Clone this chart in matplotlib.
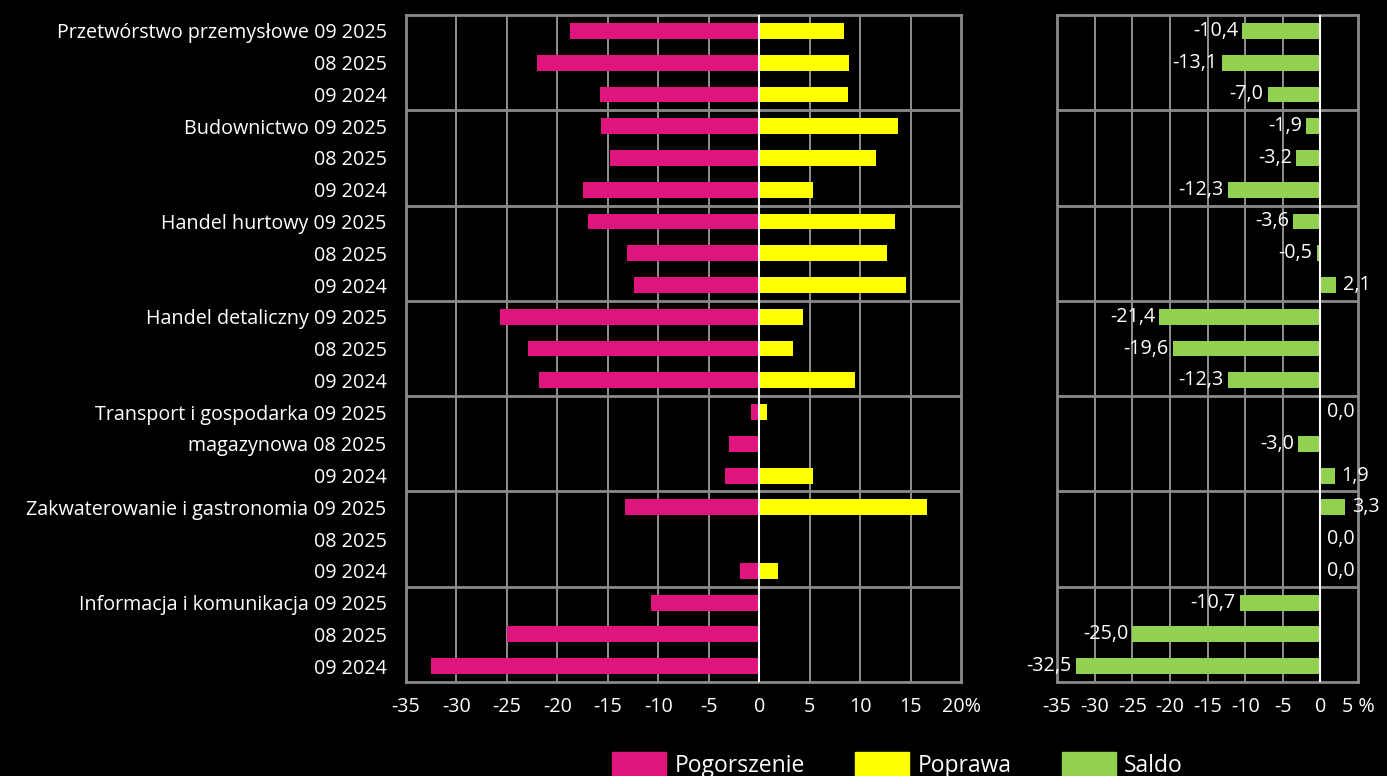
import matplotlib
matplotlib.use("Agg")
import matplotlib.pyplot as plt
from matplotlib.patches import Patch
import numpy as np

plt.rcParams['font.family'] = ['Open Sans', 'DejaVu Sans']

# label parts for each row (sector name shown on the first rows of a group)
sector_names = [
    ["Przetwórstwo przemysłowe", "", ""],
    ["Budownictwo", "", ""],
    ["Handel hurtowy", "", ""],
    ["Handel detaliczny", "", ""],
    ["Transport i gospodarka", "magazynowa", ""],
    ["Zakwaterowanie i gastronomia", "", ""],
    ["Informacja i komunikacja", "", ""],
]
periods = ["09 2025", "08 2025", "09 2024"]

pogorszenie = [-18.7, -22.0, -15.8,
               -15.7, -14.8, -17.5,
               -17.0, -13.1, -12.4,
               -25.7, -22.9, -21.8,
               -0.8, -3.0, -3.4,
               -13.3, 0.0, -1.9,
               -10.7, -25.0, -32.5]
poprawa = [8.4, 8.9, 8.8,
           13.8, 11.6, 5.3,
           13.5, 12.7, 14.5,
           4.3, 3.3, 9.5,
           0.8, 0.0, 5.3,
           16.6, 0.0, 1.9,
           0.0, 0.0, 0.0]
saldo = [-10.4, -13.1, -7.0,
         -1.9, -3.2, -12.3,
         -3.6, -0.5, 2.1,
         -21.4, -19.6, -12.3,
         0.0, -3.0, 1.9,
         3.3, 0.0, 0.0,
         -10.7, -25.0, -32.5]

left_ticks = [-35, -30, -25, -20, -15, -10, -5, 0, 5, 10, 15, 20]
right_ticks = [-35, -30, -25, -20, -15, -10, -5, 0, 5]

labels = []
for names in sector_names:
    for name, p in zip(names, periods):
        labels.append((name + " " + p).strip())

c_neg = "#E0147E"
c_pos = "#FFFF00"
c_sal = "#92D050"
grid_c = "#8a8a8a"
fs = 14.2

fig = plt.figure(figsize=(13.87, 7.76), dpi=100, facecolor="black")
ax1 = fig.add_axes([0.2927, 0.1211, 0.4002, 0.8595])
ax2 = fig.add_axes([0.7621, 0.1211, 0.2170, 0.8595])

y = np.arange(len(labels))
n = len(labels)


def style(ax, ticks, last):
    ax.set_facecolor("black")
    ax.set_ylim(n - 0.5, -0.5)
    ax.set_xlim(ticks[0], ticks[-1])
    ax.set_xticks(ticks)
    tl = [str(t) for t in ticks]
    tl[-1] = last
    ax.set_xticklabels(tl, color="white", fontsize=fs)
    ax.tick_params(axis="x", length=0, pad=11)
    for t in ticks[1:-1]:
        ax.axvline(t, color="#9a9a9a", lw=1.3, zorder=0)
    for g in range(3, n, 3):
        ax.axhline(g - 0.5, color=grid_c, lw=2, zorder=0)
    for s in ax.spines.values():
        s.set_color(grid_c)
        s.set_linewidth(2)
    ax.axvline(0, color="white", lw=1.5, zorder=3)


ax1.barh(y, pogorszenie, height=0.5, color=c_neg, zorder=2)
ax1.barh(y, poprawa, height=0.5, color=c_pos, zorder=2)
style(ax1, left_ticks, "20%")
ax1.set_yticks(y)
ax1.set_yticklabels(labels, color="white", fontsize=fs)
ax1.tick_params(axis="y", length=0, pad=14)

ax2.barh(y, saldo, height=0.5, color=c_sal, zorder=2)
style(ax2, right_ticks, "5 %")
ax2.set_yticks([])
for yi, v in zip(y, saldo):
    txt = ("%.1f" % v).replace(".", ",")
    if v < 0:
        ax2.annotate(txt, (v, yi), xytext=(-3, 0), textcoords="offset points",
                     ha="right", va="center", color="white", fontsize=fs)
    else:
        ax2.annotate(txt, (v, yi), xytext=(5, 0), textcoords="offset points",
                     ha="left", va="center", color="white", fontsize=fs)

handles = [Patch(color=c_neg, label="Pogorszenie"),
           Patch(color=c_pos, label="Poprawa"),
           Patch(color=c_sal, label="Saldo")]
fig.legend(handles=handles, loc="upper center", bbox_to_anchor=(0.647, 0.031),
           ncol=3, frameon=False, fontsize=16.5, labelcolor="white",
           handlelength=2.36, handleheight=1.3, handletextpad=0.35,
           columnspacing=2.2, borderpad=0, borderaxespad=0)

fig.savefig("out.png", dpi=100, facecolor="black")
